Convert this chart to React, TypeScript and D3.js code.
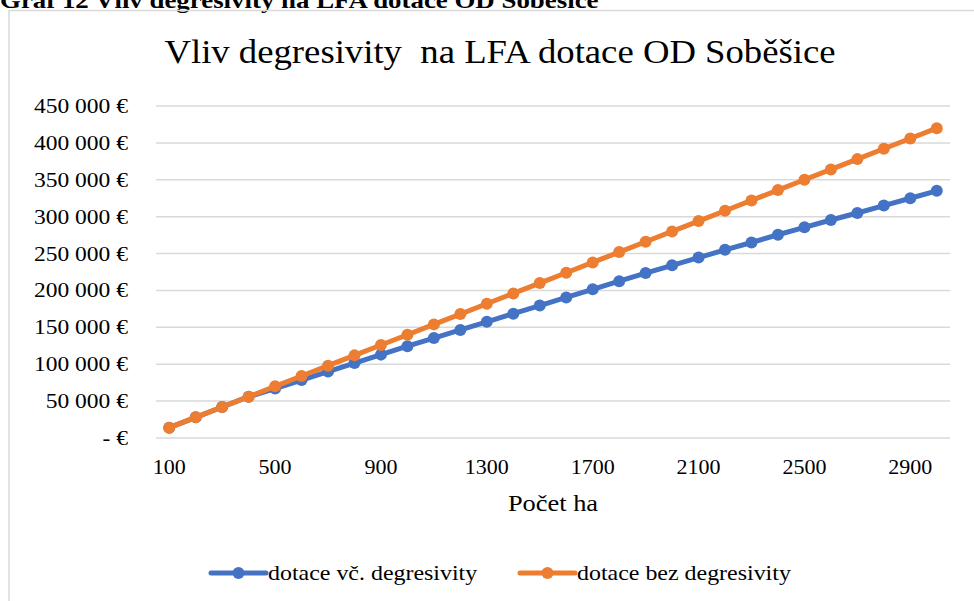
import React, { useEffect, useRef } from 'react'
import * as d3 from 'd3'

// počet ha (kategorie osy X)
const HECTARES = [
  100, 200, 300, 400, 500, 600, 700, 800, 900, 1000,
  1100, 1200, 1300, 1400, 1500, 1600, 1700, 1800, 1900, 2000,
  2100, 2200, 2300, 2400, 2500, 2600, 2700, 2800, 2900, 3000
]

// dotace vč. degresivity (€)
const WITH_DEGRESSION = [
  14000, 28000, 42000, 56000, 67000, 78500, 90000, 101500, 113000, 124500,
  135500, 146500, 157500, 168500, 179500, 190500, 201500, 212500, 223500, 234000,
  244500, 255000, 265000, 275500, 285500, 295500, 305000, 315000, 325000, 335000
]

// dotace bez degresivity (€)
const WITHOUT_DEGRESSION = [
  14000, 28000, 42000, 56000, 70000, 84000, 98000, 112000, 126000, 140000,
  154000, 168000, 182000, 196000, 210000, 224000, 238000, 252000, 266000, 280000,
  294000, 308000, 322000, 336000, 350000, 364000, 378000, 392000, 406000, 420000
]

const Y_TICKS = [0, 50000, 100000, 150000, 200000, 250000, 300000, 350000, 400000, 450000]
const X_LABELS = [100, 500, 900, 1300, 1700, 2100, 2500, 2900]

const SERIES = [
  { name: 'dotace vč. degresivity', color: '#4472C4', values: WITH_DEGRESSION },
  { name: 'dotace bez degresivity', color: '#ED7D31', values: WITHOUT_DEGRESSION }
]

const W = 974
const H = 601
const FONT = "'Liberation Serif', 'Times New Roman', serif"

const fmtEuro = (v: number) =>
  v === 0 ? '- €' : d3.format(',')(v).replace(/,/g, ' ') + ' €'

type Sel = d3.Selection<any, unknown, null, undefined>

// text s mírným horizontálním roztažením (písmo v originále je širší)
function stretchedText(
  parent: Sel, x: number, y: number, txt: string,
  size: number, sx: number, anchor = 'start', weight = 400
) {
  parent.append('g')
    .attr('transform', `translate(${x},${y}) scale(${sx},1)`)
    .append('text')
    .attr('text-anchor', anchor)
    .attr('font-family', FONT)
    .attr('font-size', size)
    .attr('font-weight', weight)
    .attr('fill', '#000')
    .style('white-space', 'pre')
    .text(txt)
}

export default function App() {
  const ref = useRef<SVGSVGElement>(null)

  useEffect(() => {
    if (!ref.current) return
    const svg = d3.select(ref.current) as Sel
    svg.selectAll('*').remove()

    svg.append('rect').attr('width', W).attr('height', H).attr('fill', '#fff')

    // nadpis dokumentu (oříznutý nahoře)
    stretchedText(svg, 0, 8, 'Graf 12 Vliv degresivity na LFA dotace OD Soběšice', 24, 1.12, 'start', 700)

    // rámeček grafu
    svg.append('rect')
      .attr('x', 9).attr('y', 10.5)
      .attr('width', W + 20).attr('height', H + 20)
      .attr('fill', 'none').attr('stroke', '#d9d9d9').attr('stroke-width', 1.5)

    stretchedText(svg, 500, 63, 'Vliv degresivity  na LFA dotace OD Soběšice', 34, 1.08, 'middle')

    const x = d3.scaleBand<number>()
      .domain(HECTARES)
      .range([156, 950])
    const y = d3.scaleLinear()
      .domain([0, 450000])
      .range([438, 106])

    const cx = (h: number) => (x(h) ?? 0) + x.bandwidth() / 2

    // mřížka
    svg.append('g').selectAll('line')
      .data(Y_TICKS)
      .join('line')
      .attr('x1', 156).attr('x2', 950)
      .attr('y1', d => y(d)).attr('y2', d => y(d))
      .attr('stroke', '#d9d9d9').attr('stroke-width', 1.5)

    Y_TICKS.forEach(t => stretchedText(svg, 128, y(t) + 7, fmtEuro(t), 21, 1.12, 'end'))

    svg.append('g').selectAll('text')
      .data(X_LABELS)
      .join('text')
      .attr('x', d => cx(d)).attr('y', 474)
      .attr('text-anchor', 'middle')
      .attr('font-family', FONT).attr('font-size', 22)
      .attr('fill', '#000')
      .text(d => String(d))

    stretchedText(svg, 553, 511, 'Počet ha', 24, 1.1, 'middle')

    const line = d3.line<number>()
      .x((_, i) => cx(HECTARES[i]))
      .y(d => y(d))

    SERIES.forEach(s => {
      const g = svg.append('g')
      g.append('path')
        .attr('d', line(s.values) ?? '')
        .attr('fill', 'none')
        .attr('stroke', s.color)
        .attr('stroke-width', 5)
        .attr('stroke-linejoin', 'round')
        .attr('stroke-linecap', 'round')
      g.selectAll('circle')
        .data(s.values)
        .join('circle')
        .attr('cx', (_, i) => cx(HECTARES[i]))
        .attr('cy', d => y(d))
        .attr('r', 6)
        .attr('fill', s.color)
    })

    // legenda
    const legendX = [211, 520]
    SERIES.forEach((s, i) => {
      const lx = legendX[i]
      const ly = 573
      svg.append('line')
        .attr('x1', lx).attr('x2', lx + 55)
        .attr('y1', ly).attr('y2', ly)
        .attr('stroke', s.color).attr('stroke-width', 5)
        .attr('stroke-linecap', 'round')
      svg.append('circle')
        .attr('cx', lx + 27.5).attr('cy', ly).attr('r', 6).attr('fill', s.color)
      stretchedText(svg, lx + 57, ly + 7, s.name, 21, 1.14)
    })
  }, [])

  return (
    <svg
      ref={ref}
      width={W}
      height={H}
      style={{ position: 'absolute', left: 0, top: 0 }}
    />
  )
}
